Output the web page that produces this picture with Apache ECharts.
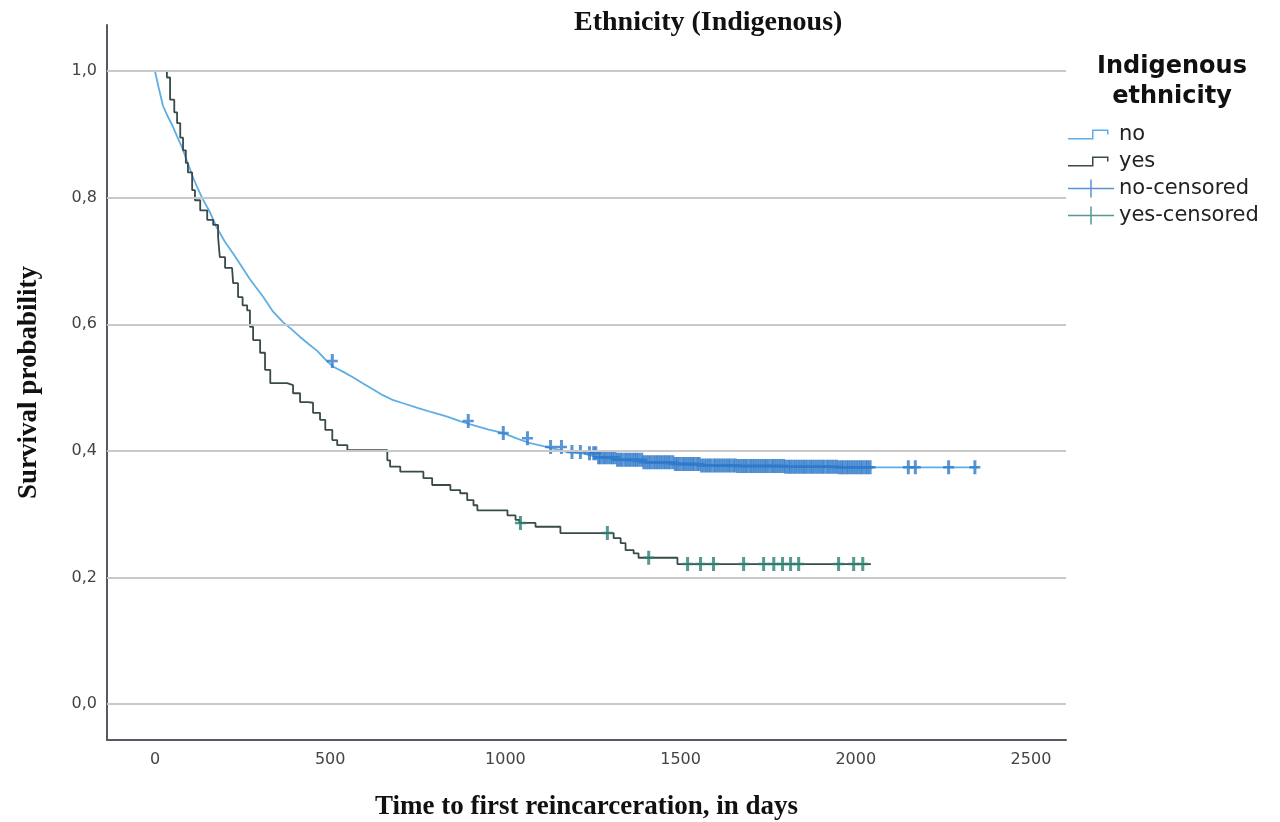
<!DOCTYPE html>
<html>
<head>
<meta charset="utf-8">
<title>Ethnicity (Indigenous)</title>
<script src="https://cdn.jsdelivr.net/npm/echarts@6.0.0/dist/echarts.min.js"></script>
<style>
  html, body { margin: 0; padding: 0; background: #fff; }
  #km_chart { width: 1280px; height: 822px; }
</style>
</head>
<body>
<div id="km_chart"></div>
<script>
"use strict";

/***** data *****/
var xTicks = [0, 500, 1000, 1500, 2000, 2500];
var yTicks = [0, 0.2, 0.4, 0.6, 0.8, 1.0];

// "no" group: event times (days) and survival estimate after each step
var noTimes = [0, 10, 23, 35, 49, 63, 77, 90, 100, 110,
	120, 137, 157, 177, 200, 223, 251, 270, 286, 309,
	337, 366, 390, 414, 440, 463, 490, 509, 540, 566,
	595, 623, 650, 680, 715, 749, 790, 834, 870, 900,
	950, 994, 1030, 1071, 1120, 1177, 1220, 1263, 1320, 1394,
	1480, 1560, 1663, 1800, 1950, 2350];
var noSurv = [1.0, 0.975, 0.945, 0.93, 0.915, 0.897, 0.88, 0.86, 0.845, 0.83,
	0.817, 0.797, 0.777, 0.752, 0.73, 0.712, 0.688, 0.672, 0.66, 0.643,
	0.62, 0.603, 0.592, 0.58, 0.568, 0.558, 0.542, 0.533, 0.524, 0.516,
	0.506, 0.497, 0.488, 0.48, 0.474, 0.468, 0.461, 0.454, 0.447, 0.442,
	0.434, 0.428, 0.42, 0.412, 0.406, 0.398, 0.396, 0.39, 0.386, 0.382,
	0.379, 0.377, 0.376, 0.375, 0.374, 0.374];

// "yes" group
var yesTimes = [0, 34, 43, 55, 63, 72, 80, 88, 94, 106,
	114, 129, 149, 166, 180, 185, 200, 220, 223, 237,
	250, 263, 271, 280, 300, 314, 329, 377, 394, 414,
	437, 451, 471, 486, 506, 520, 549, 663, 671, 700,
	766, 791, 843, 871, 891, 909, 920, 1006, 1029, 1040,
	1086, 1157, 1309, 1329, 1343, 1366, 1380, 1491, 2043];
var yesSurv = [1.0, 0.99, 0.955, 0.935, 0.918, 0.895, 0.875, 0.855, 0.84, 0.812,
	0.796, 0.78, 0.765, 0.757, 0.738, 0.706, 0.689, 0.686, 0.665, 0.643,
	0.63, 0.622, 0.596, 0.575, 0.555, 0.528, 0.507, 0.504, 0.491, 0.477,
	0.476, 0.46, 0.449, 0.433, 0.417, 0.409, 0.401, 0.385, 0.375, 0.367,
	0.357, 0.346, 0.338, 0.333, 0.322, 0.314, 0.306, 0.298, 0.291, 0.286,
	0.28, 0.27, 0.262, 0.254, 0.243, 0.238, 0.231, 0.221, 0.221];

// censored observation times
var noCensored = [506, 894, 994, 1063, 1129, 1160, 1190, 1214, 1240,
	1252, 1258, 1266, 1271, 1279, 1285, 1292, 1300, 1306, 1313, 1320, 1327, 1333, 1341, 1347, 1354,
	1361, 1368, 1374, 1381, 1389, 1395, 1402, 1409, 1415, 1423, 1430, 1436, 1443, 1450, 1457, 1464,
	1470, 1478, 1485, 1491, 1498, 1506, 1512, 1519, 1526, 1533, 1539, 1547, 1553, 1560, 1567, 1574,
	1581, 1587, 1595, 1601, 1608, 1615, 1622, 1629, 1636, 1642, 1650, 1656, 1663, 1670, 1677, 1684,
	1690, 1698, 1704, 1711, 1718, 1725, 1732, 1739, 1745, 1752, 1760, 1766, 1773, 1780, 1787, 1794,
	1800, 1808, 1814, 1821, 1828, 1835, 1842, 1849, 1855, 1862, 1870, 1876, 1883, 1890, 1897, 1904,
	1910, 1918, 1924, 1931, 1938, 1945, 1952, 1959, 1965, 1973, 1979, 1986, 1993, 2000, 2007, 2014,
	2020, 2028, 2034, 2041, 2150, 2170, 2265, 2340];
var yesCensored = [1043, 1291, 1409, 1520, 1557, 1594, 1680, 1737, 1766, 1791, 1814, 1837, 1951, 1994, 2020];

/***** helpers *****/
function pairs(t, s) {
	var out = [];
	for (var i = 0; i < t.length; i++) { out.push([t[i], s[i]]); }
	return out;
}
// survival estimate at time x (step function)
function survAt(t, s, x) {
	var v = s[0];
	for (var i = 0; i < t.length; i++) { if (t[i] <= x) v = s[i]; }
	return v;
}
function censorPoints(c, t, s) {
	return c.map(function (x) { return [x, survAt(t, s, x)]; });
}

var plusSymbol = 'path://M4,0H7V5.75H11V8.25H7V14H4V8.25H0V5.75H4Z';
var stepIcon = 'path://M0,0h0.01v0.01zM46,18h-0.01v-0.01zM0,12.5H24V4H40.5V9H39V5.5H25.5V14H0Z';
var crossIcon = 'path://M0,8.25H22.25V0H23.75V8.25H46V9.75H23.75V18H22.25V9.75H0Z';

var serif = '"Liberation Serif", "DejaVu Serif", serif';
var sans = '"DejaVu Sans", "Noto Sans", sans-serif';

var kmChart = echarts.init(document.getElementById('km_chart'));
var option = {
	animation: false,
	backgroundColor: '#ffffff',
	title: [{
		text: 'Ethnicity (Indigenous)',
		left: 569,
		top: 4,
		textStyle: { fontFamily: serif, fontWeight: 'bold', fontSize: 28, color: '#111' }
	}, {
		text: 'Indigenous\nethnicity',
		left: 1167,
		top: 47,
		textAlign: 'center',
		textStyle: { fontFamily: sans, fontWeight: 'bold', fontSize: 24, lineHeight: 30, color: '#111' }
	}],
	legend: {
		orient: 'vertical',
		left: 1063,
		top: 119,
		itemWidth: 46,
		itemHeight: 18,
		itemGap: 6,
		textStyle: { fontFamily: sans, fontSize: 21, color: '#222' },
		data: [
			{ name: 'no', icon: stepIcon },
			{ name: 'yes', icon: stepIcon },
			{ name: 'no-censored', icon: crossIcon },
			{ name: 'yes-censored', icon: crossIcon }
		]
	},
	grid: { left: 107, right: 214, top: 25, bottom: 82, containLabel: false, outerBoundsMode: 'none' },
	xAxis: {
		type: 'value',
		min: -137,
		max: 2600,
		name: 'Time to first reincarceration, in days',
		nameLocation: 'middle',
		nameGap: 54,
		nameTextStyle: { fontFamily: serif, fontWeight: 'bold', fontSize: 27, color: '#111' },
		axisLine: { show: true, onZero: false, lineStyle: { color: '#5b5866', width: 2 } },
		axisTick: { show: false },
		splitLine: { show: false },
		axisLabel: {
			customValues: xTicks,
			margin: 12,
			fontFamily: sans, fontSize: 16, color: '#444',
			formatter: function (v) { return String(v); }
		}
	},
	yAxis: {
		type: 'value',
		min: -0.057,
		max: 1.073,
		name: 'Survival probability',
		nameLocation: 'middle',
		nameGap: 64,
		nameTextStyle: { fontFamily: serif, fontWeight: 'bold', fontSize: 27, color: '#111' },
		axisLine: { show: true, onZero: false, lineStyle: { color: '#5b5866', width: 2 } },
		axisTick: { show: false },
		splitLine: { show: false },
		axisLabel: {
			customValues: yTicks,
			margin: 10,
			fontFamily: sans, fontSize: 16, color: '#444',
			formatter: function (v) { return v.toFixed(1).replace('.', ','); }
		}
	},
	series: [{
		name: 'grid',
		type: 'line',
		data: [],
		z: 1,
		silent: true,
		markLine: {
			silent: true,
			symbol: 'none',
			label: { show: false },
			lineStyle: { color: '#c9c9c9', width: 2, type: 'solid' },
			data: yTicks.map(function (v) { return { yAxis: v }; })
		}
	}, {
		name: 'no',
		type: 'line',
		showSymbol: false,
		symbol: 'none',
		z: 3,
		itemStyle: { color: '#5eaee6' },
		lineStyle: { color: '#5eaee6', width: 1.8 },
		data: pairs(noTimes, noSurv)
	}, {
		name: 'yes',
		type: 'line',
		step: 'end',
		showSymbol: false,
		symbol: 'none',
		z: 3,
		itemStyle: { color: '#394a4a' },
		lineStyle: { color: '#394a4a', width: 1.8 },
		data: pairs(yesTimes, yesSurv)
	}, {
		name: 'no-censored',
		type: 'scatter',
		symbol: plusSymbol,
		symbolSize: [11, 14],
		z: 4,
		itemStyle: { color: '#2f7bcb' },
		data: censorPoints(noCensored, noTimes, noSurv)
	}, {
		name: 'yes-censored',
		type: 'scatter',
		symbol: plusSymbol,
		symbolSize: [11, 14],
		z: 4,
		itemStyle: { color: '#2a7f74' },
		data: censorPoints(yesCensored, yesTimes, yesSurv)
	}]
};
kmChart.setOption(option);
</script>
</body>
</html>
